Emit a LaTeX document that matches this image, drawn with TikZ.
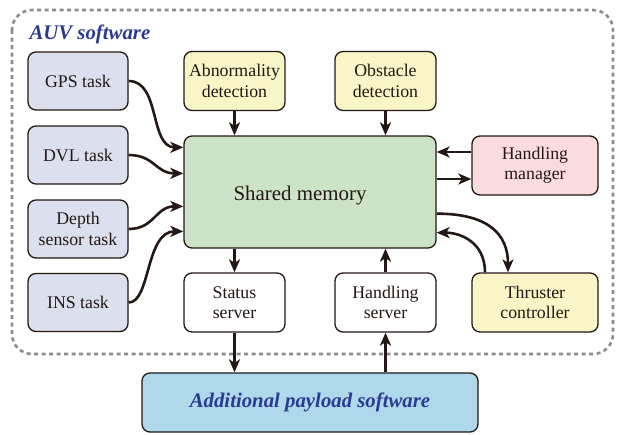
\documentclass[tikz,border=0pt]{standalone}
\usepackage{fontspec}
\setmainfont{Liberation Serif}
\usetikzlibrary{arrows.meta}

\definecolor{ink}{HTML}{231815}
\definecolor{navy}{HTML}{2B3990}
\definecolor{taskfill}{HTML}{DCDFEE}
\definecolor{yelfill}{HTML}{F8F6C6}
\definecolor{memfill}{HTML}{CCE3C8}
\definecolor{pinkfill}{HTML}{FADBDF}
\definecolor{bluefill}{HTML}{AFD9EA}
\definecolor{borderg}{HTML}{8C8C8C}

\tikzset{
  box/.style={draw=ink, line width=1.3pt, rounded corners=8pt, align=center,
              inner sep=2pt, font=\fontsize{17.8}{20.2}\selectfont, text=ink},
  taskbox/.style={box, fill=taskfill, minimum width=100pt, minimum height=58pt},
  midbox/.style={box, minimum width=101pt, minimum height=59pt},
  widebox/.style={box, minimum width=126pt, minimum height=59pt},
  flow/.style={draw=ink, line width=2.6pt,
               -{Stealth[length=13pt,width=11pt,inset=3.5pt]}},
}

\begin{document}
\begin{tikzpicture}[x=1pt,y=-1pt]
\useasboundingbox (0,0) rectangle (618,434);

% software boundary
\draw[borderg, line width=2.6pt, dash pattern=on 4pt off 3.5pt, rounded corners=20pt]
  (12,10) rectangle (613,354);
\node[anchor=base west, text=navy, font=\fontsize{20.8}{25}\bfseries\itshape]
  (title) at (26,39.5) {AUV software};

% sensor tasks
\node[taskbox] (gps)   at (78,81)    {GPS task};
\node[taskbox] (dvl)   at (78,155)   {DVL task};
\node[taskbox] (depth) at (78,229)   {Depth\\sensor task};
\node[taskbox] (ins)   at (78,302.5) {INS task};

% detection modules
\node[midbox, fill=yelfill] (abn) at (234.5,81) {Abnormality\\detection};
\node[midbox, fill=yelfill] (obs) at (385.5,81) {Obstacle\\detection};

% shared memory, its caption set a little left of and below the centre
\node[box, fill=memfill, minimum width=252pt, minimum height=112pt] (mem) at (310,192) {};
\node[text=ink, font=\fontsize{20.9}{25}\selectfont, inner sep=0pt]
  (memtext) at (300,196) {Shared memory};

% handlers and servers
\node[widebox, fill=pinkfill] (hman) at (535,165.5) {Handling\\manager};
\node[midbox, fill=white] (status) at (234.5,302.5) {Status\\server};
\node[midbox, fill=white] (hserv)  at (385.5,302.5) {Handling\\server};
\node[widebox, fill=yelfill] (thr) at (535,302.5) {Thruster\\controller};

% external payload
\node[box, fill=bluefill, minimum width=336pt, minimum height=59pt,
      text=navy, font=\fontsize{20.8}{25}\bfseries\itshape]
  (payload) at (310,402.5) {Additional payload software};

% sensor inputs
\draw[flow] (gps.east) .. controls +(32,0) and +(-34,0) .. ([yshift=-12pt]mem.north west);
\draw[flow] (dvl.east) .. controls +(26,0) and +(-28,0) .. ([yshift=-38pt]mem.north west);
\draw[flow] (depth.east) .. controls +(26,0) and +(-28,0) .. ([yshift=-71pt]mem.north west);
\draw[flow] (ins.east) .. controls +(22,0) and +(-38,0) .. ([yshift=-96pt]mem.north west);

% detections
\draw[flow] (abn.south) -- (abn.south |- mem.north);
\draw[flow] (obs.south) -- (obs.south |- mem.north);

% handling manager exchange
\draw[flow] ([yshift=13.5pt]hman.west) -- ([yshift=13.5pt]hman.west -| mem.east);
\draw[flow] ([yshift=-13.5pt]hman.west -| mem.east) -- ([yshift=-13.5pt]hman.west);

% thruster exchange
\draw[flow] ([yshift=35pt]mem.south east) .. controls +(52,0) and +(0,-38) .. ([xshift=-27pt]thr.north);
\draw[flow] ([xshift=-50pt]thr.north) .. controls +(0,-30) and +(24,0) .. ([yshift=16pt]mem.south east);

% servers
\draw[flow] (status.north |- mem.south) -- (status.north);
\draw[flow] (hserv.north) -- (hserv.north |- mem.south);
\draw[flow] (status.south) -- (status.south |- payload.north);
\draw[flow] (hserv.south |- payload.north) -- (hserv.south);
\end{tikzpicture}
\end{document}
